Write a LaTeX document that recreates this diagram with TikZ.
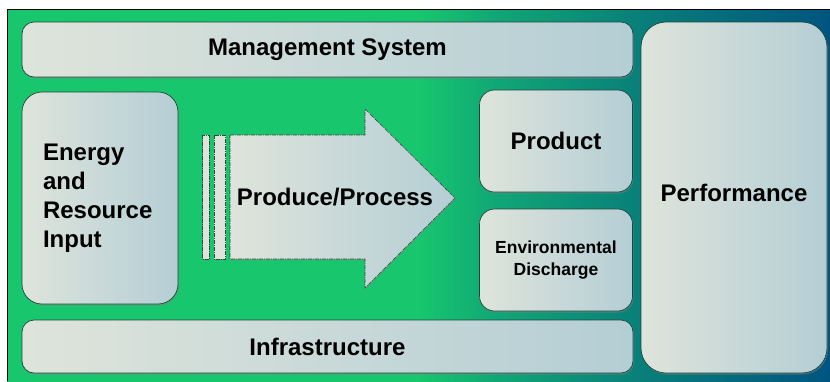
\documentclass[tikz,border=0pt]{standalone}
\usepackage{fontspec}
\setmainfont{Liberation Sans}
\usepackage{tikz}
\usetikzlibrary{shadows}

\definecolor{bggreen}{RGB}{24,198,110}
\definecolor{bgmid}{RGB}{16,165,118}
\definecolor{bgteal}{RGB}{8,125,122}
\definecolor{bgblue}{RGB}{0,85,128}
\definecolor{boxlight}{RGB}{222,228,219}
\definecolor{boxblue}{RGB}{180,206,213}
\definecolor{edgedark}{RGB}{30,70,60}

% backdrop fades from green into blue towards the right
\pgfdeclarehorizontalshading{panelfade}{100bp}{color(0bp)=(bggreen); color(25bp)=(bggreen);
  color(50bp)=(bggreen); color(55bp)=(bgmid); color(64bp)=(bgteal); color(75bp)=(bgblue);
  color(100bp)=(bgblue)}

\begin{document}
\begin{tikzpicture}[
    x=1pt, y=-1pt,
    big/.style={font=\fontsize{24}{29}\selectfont\bfseries},
    box/.style={rounded corners=12pt, draw=edgedark, line width=0.7pt,
      left color=boxlight, right color=boxblue, big, inner sep=0pt, align=center,
      drop shadow={shadow xshift=1pt, shadow yshift=-1.5pt, opacity=0.5}},
    flowarrow/.style={draw=black!75, line width=0.6pt,
      dash pattern=on 4pt off 1pt on 1pt off 1pt,
      left color=boxlight, right color=boxblue,
      drop shadow={shadow xshift=1pt, shadow yshift=-1.5pt, opacity=0.35}},
    stripe/.style={draw=black!75, line width=0.6pt,
      dash pattern=on 4pt off 1pt on 1pt off 1pt, fill=boxlight}
]
\useasboundingbox (0,0) rectangle (830,381);
\fill[white] (0,0) rectangle (830,381);
\shade[shading=panelfade] (7,9) rectangle (830,381);
\draw[black, line width=0.8pt] (7,381) -- (7,9) -- (830,9);

% frame boxes
\node[box, minimum width=611pt, minimum height=55pt] (mgmt) at (327.5,49.5) {Management System};
\node[box, minimum width=611pt, minimum height=53pt] (infra) at (327.5,346.5) {Infrastructure};
\node[box, rounded corners=25pt, minimum width=186pt, minimum height=351pt,
  text depth=10pt] (perf) at (734,197.5) {Performance};

% input and outputs
\node[box, rounded corners=20pt, minimum width=156pt, minimum height=212pt,
  text width=114pt, inner xsep=21pt, align=left] (input) at (100,198) {Energy\\and\\Resource\\Input};
\node[box, rounded corners=15pt, minimum width=153pt, minimum height=102pt] (product) at (556,141) {Product};
\node[box, rounded corners=15pt, minimum width=153pt, minimum height=102pt,
  font=\fontsize{17.5}{22}\selectfont\bfseries] (discharge) at (556,260) {Environmental\\Discharge};

% process arrow
\draw[stripe] (202.5,135) rectangle (209,259);
\draw[stripe] (214,135) rectangle (225.5,259);
\draw[flowarrow] (230,135) -- (365,135) -- (365,109) -- (455,198) -- (365,288)
  -- (365,259) -- (230,259) -- cycle;
\node[big] (flow) at (335,197) {Produce/Process};
\end{tikzpicture}
\end{document}
